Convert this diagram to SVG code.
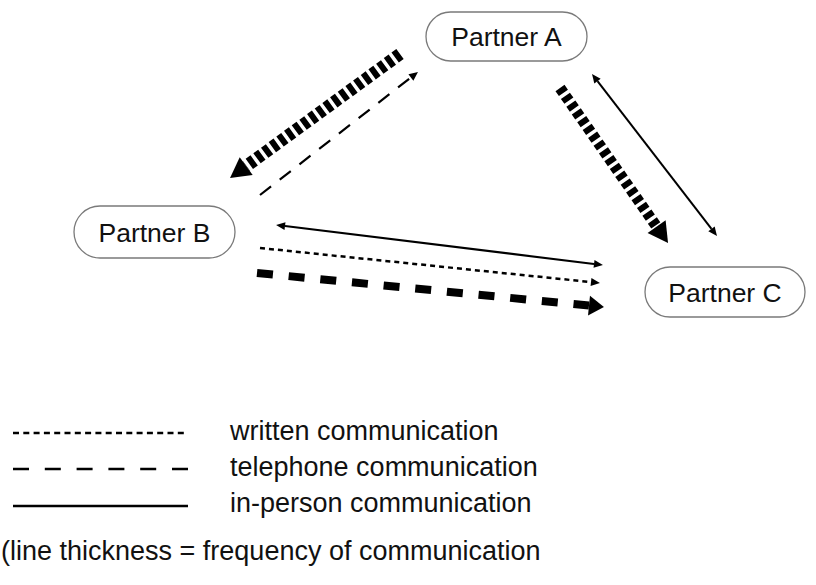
<svg xmlns="http://www.w3.org/2000/svg" width="816" height="585" viewBox="0 0 816 585">
  <style>
    .node rect { fill: #fff; stroke: #7a7a7a; stroke-width: 1.3; }
    .node text, .legend text { font-family: "Liberation Sans", Arial, sans-serif; fill: #111; }
    .node text { font-size: 26.5px; text-anchor: middle; }
    .legend text { font-size: 27px; }
    .ln { fill: none; stroke: #000; stroke-linecap: butt; }
    .inperson { stroke-width: 2; }
    .written { stroke-width: 2.5; stroke-dasharray: 5 4; }
    .phone { stroke-width: 2.2; stroke-dasharray: 14 11; }
    .hatch { stroke-dasharray: 6 3.5; }
  </style>
  <defs>
    <marker id="head-s" markerUnits="userSpaceOnUse" markerWidth="10" markerHeight="10" refX="0" refY="5" orient="auto" overflow="visible">
      <path d="M0,1 L9,5 L0,9 z" fill="#000" stroke="none"/>
    </marker>
    <marker id="head-s-start" markerUnits="userSpaceOnUse" markerWidth="10" markerHeight="10" refX="0" refY="5" orient="auto-start-reverse" overflow="visible">
      <path d="M0,1 L9,5 L0,9 z" fill="#000" stroke="none"/>
    </marker>
    <marker id="head-l" markerUnits="userSpaceOnUse" markerWidth="22" markerHeight="24" refX="0" refY="12" orient="auto" overflow="visible">
      <path d="M0,1 L20,12 L0,23 z" fill="#000" stroke="none"/>
    </marker>
    <marker id="head-m" markerUnits="userSpaceOnUse" markerWidth="16" markerHeight="22" refX="0" refY="11" orient="auto" overflow="visible">
      <path d="M0,1 L15,11 L0,21 z" fill="#000" stroke="none"/>
    </marker>
  </defs>

  <!-- connectors -->
  <g id="connectors">
    <!-- A to B: frequent written -->
    <line class="ln hatch" x1="400" y1="54" x2="246.2" y2="166.2" stroke-width="12.5" marker-end="url(#head-l)"/>
    <!-- B to A: telephone -->
    <line class="ln phone" x1="260" y1="195" x2="410.9" y2="77.5" marker-end="url(#head-s)"/>
    <!-- A to C: frequent written -->
    <line class="ln hatch" x1="560" y1="88" x2="656.6" y2="226.6" stroke-width="11" marker-end="url(#head-l)"/>
    <!-- A and C: in-person both ways -->
    <line class="ln inperson" x1="597.5" y1="81.1" x2="711.5" y2="228.9" marker-start="url(#head-s-start)" marker-end="url(#head-s)"/>
    <!-- B and C: in-person both ways -->
    <line class="ln inperson" x1="285" y1="226.1" x2="594" y2="263.9" marker-start="url(#head-s-start)" marker-end="url(#head-s)"/>
    <!-- B to C: written -->
    <line class="ln written" x1="260" y1="248" x2="591" y2="282.1" marker-end="url(#head-s)"/>
    <!-- B to C: frequent telephone -->
    <line class="ln" x1="257" y1="273" x2="589" y2="305.6" stroke-width="8" stroke-dasharray="16 15.8" marker-end="url(#head-m)"/>
  </g>

  <!-- nodes -->
  <g id="partner-a" class="node">
    <rect x="426" y="12" width="161" height="49" rx="24.5"/>
    <text x="506.5" y="46">Partner A</text>
  </g>
  <g id="partner-b" class="node">
    <rect x="74" y="206" width="161" height="52" rx="26"/>
    <text x="154.5" y="241.5">Partner B</text>
  </g>
  <g id="partner-c" class="node">
    <rect x="645" y="267" width="160" height="50" rx="25"/>
    <text x="725" y="301.5">Partner C</text>
  </g>

  <!-- legend -->
  <g id="legend" class="legend">
    <line class="ln" x1="13" y1="433" x2="188" y2="433" stroke-width="2.5" stroke-dasharray="6 4.3"/>
    <text x="230" y="440">written communication</text>
    <line class="ln" x1="13" y1="469" x2="188" y2="469" stroke-width="2.5" stroke-dasharray="16 15.8"/>
    <text x="230" y="476">telephone communication</text>
    <line class="ln" x1="13" y1="506" x2="188" y2="506" stroke-width="2.5"/>
    <text x="230" y="512">in-person communication</text>
    <text x="1" y="560">(line thickness = frequency of communication</text>
  </g>
</svg>
